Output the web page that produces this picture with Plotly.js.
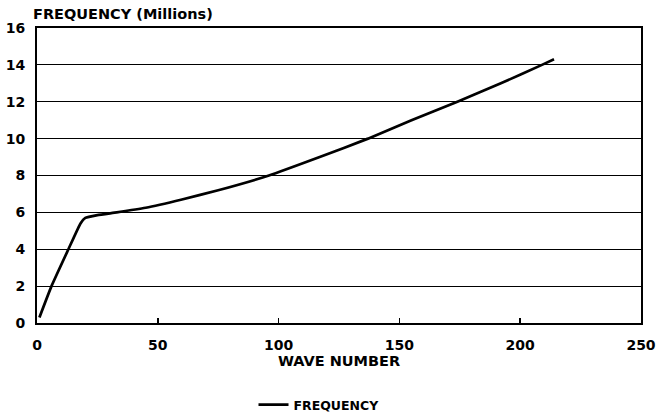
<!DOCTYPE html>
<html>
<head>
<meta charset="utf-8">
<script src="https://cdn.plot.ly/plotly-3.0.1.min.js"></script>
<style>html,body{margin:0;padding:0;background:#fff;}#chart{width:662px;height:419px;}</style>
</head>
<body>
<div id="chart"></div>
<script>
const waveNumber = [1, 6, 13, 18, 20, 25, 33, 45, 60, 75, 96, 117, 137, 155, 174, 192, 209, 214];
const frequency = [0.3, 2, 4, 5.4, 5.7, 5.85, 6.0, 6.25, 6.7, 7.2, 8.0, 9.0, 10.0, 11.0, 12.0, 13.0, 14.0, 14.3];
const xTicks = [0, 50, 100, 150, 200, 250];
const yTicks = [0, 2, 4, 6, 8, 10, 12, 14, 16];

const fontFam = '"DejaVu Sans", "Liberation Sans", Arial, sans-serif';
const trace = {
  x: waveNumber, y: frequency, type: 'scatter', mode: 'lines', name: 'FREQUENCY',
  line: {color: '#000', width: 2.7, shape: 'spline', smoothing: 0.4}
};
const layout = {
  width: 662, height: 419,
  margin: {l: 37, r: 21, t: 28, b: 96},
  paper_bgcolor: '#fff', plot_bgcolor: '#fff',
  font: {family: fontFam, color: '#000', size: 13, weight: 'bold'},
  title: {text: '<b>FREQUENCY (Millions)</b>', x: 33 / 662, xanchor: 'left', xref: 'container',
          y: 1 - 14 / 419, yanchor: 'middle', yref: 'container',
          font: {family: fontFam, size: 14.5, color: '#000'}},
  xaxis: {
    range: [0, 250], tickvals: xTicks, ticktext: xTicks.map(String),
    showgrid: false, zeroline: false, showline: true, linecolor: '#000', linewidth: 2, mirror: true,
    ticks: 'inside', ticklen: 5, tickwidth: 1.5, tickcolor: '#000',
    ticklabelstandoff: 8, automargin: false,
    tickfont: {family: fontFam, size: 14, color: '#000', weight: 'bold'},
    title: {text: '<b>WAVE NUMBER</b>', standoff: 0, font: {family: fontFam, size: 14.5, color: '#000'}}
  },
  yaxis: {
    range: [0, 16], tickvals: yTicks, ticktext: yTicks.map(String),
    showgrid: true, gridcolor: '#000', gridwidth: 1.2, zeroline: false,
    showline: true, linecolor: '#000', linewidth: 2, mirror: true,
    ticks: '', ticklabelstandoff: 7, automargin: false,
    tickfont: {family: fontFam, size: 14, color: '#000', weight: 'bold'}
  },
  showlegend: true,
  legend: {orientation: 'h', x: 319 / 662, xanchor: 'center', xref: 'container',
           y: 14 / 419, yanchor: 'middle', yref: 'container',
           itemwidth: 30,
           font: {family: fontFam, size: 12.5, color: '#000', weight: 'bold'}, bgcolor: 'rgba(0,0,0,0)'}
};
Plotly.newPlot('chart', [trace], layout, {displayModeBar: false, staticPlot: true});
</script>
</body>
</html>
